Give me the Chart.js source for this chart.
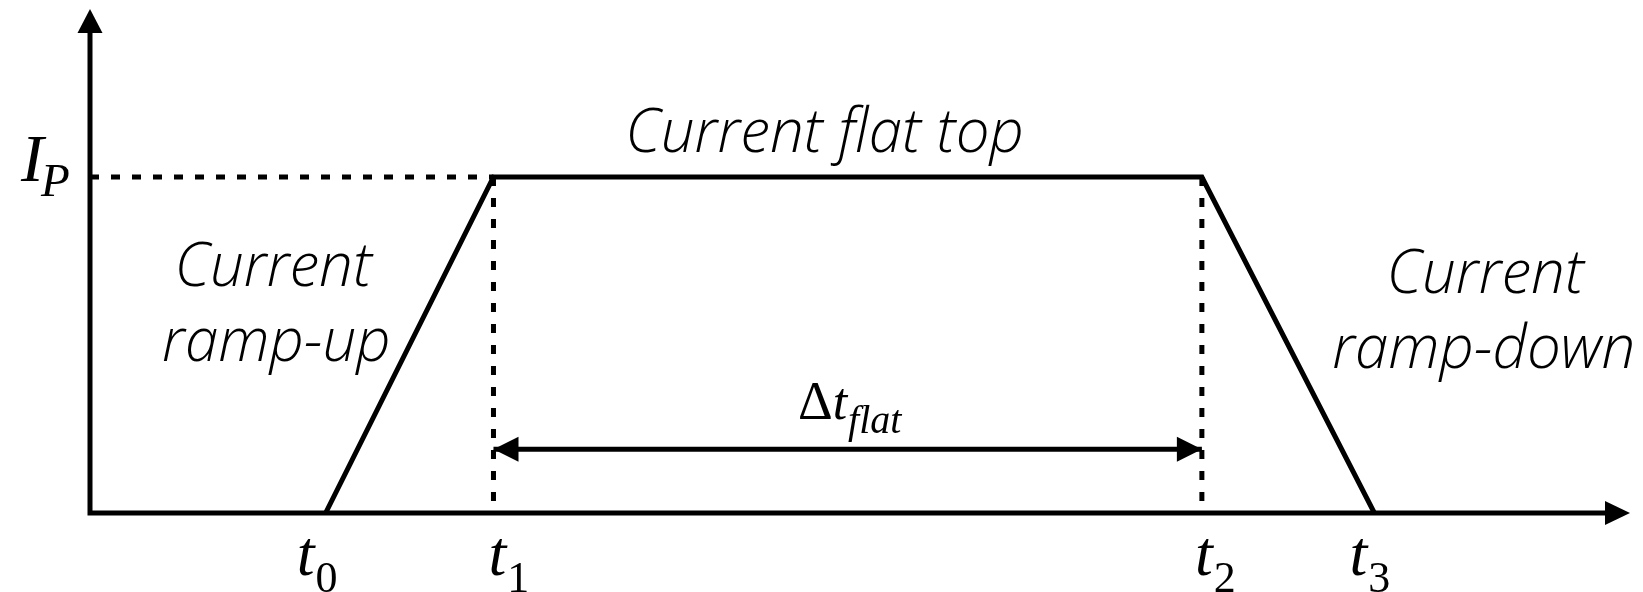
<!DOCTYPE html>
<html>
<head>
<meta charset="utf-8">
<script src="https://cdn.jsdelivr.net/npm/chart.js@4/dist/chart.umd.min.js"></script>
<style>
  html, body { margin: 0; padding: 0; background: #fff; }
  #wrap { width: 1643px; height: 592px; position: relative; }
</style>
</head>
<body>
<div id="wrap"><canvas id="pulse"></canvas></div>
<script>
// Plasma current pulse: phase boundaries and current levels
const phaseTimes = [15.3, 26.2, 72.2, 83.4];     // t0, t1, t2, t3
const phaseCurrent = [0, 1, 1, 0];               // current, normalised to I_P
const timeSubscripts = ['0', '1', '2', '3'];     // tick labels t0..t3
const plateauLevel = 1;                           // I_P
const flatSpanLevel = 0.19;                       // height of the Δt_flat marker
const phaseNames = ['Current flat top', 'Current', 'ramp-up', 'Current', 'ramp-down'];
const xMax = 100;
const yMax = 1.5;

// ---- styling / placement ----
const INK = '#000';
const LINE_W = 5;
const DASH = [9, 12];
const TEXT_FONT = 'italic 300 60px "Open Sans", "Noto Sans", sans-serif';
const SERIF = '"Liberation Serif", "Times New Roman", serif';
// anchor of each phase caption (data units), same order as phaseNames
const captionAnchors = [
  { x: 47.7, y: 1.074 },
  { x: 11.9, y: 0.676 },
  { x: 12.1, y: 0.452 },
  { x: 90.6, y: 0.655 },
  { x: 90.5, y: 0.432 }
];
const tickNudge = [-9, 15, 13, -5];   // horizontal offsets of the t_i labels (px)

const pts = (xs, ys) => xs.map((x, i) => ({ x, y: ys[i] }));
const t1 = phaseTimes[1], t2 = phaseTimes[2];

function arrowHead(ctx, tx, ty, dx, dy, len = 25, half = 12.5) {
  const bx = tx - dx * len, by = ty - dy * len;
  ctx.beginPath();
  ctx.moveTo(tx, ty);
  ctx.lineTo(bx - dy * half, by + dx * half);
  ctx.lineTo(bx + dy * half, by - dx * half);
  ctx.closePath();
  ctx.fill();
}

// Axes with arrowheads
const axesPlugin = {
  id: 'arrowAxes',
  beforeDatasetsDraw(chart) {
    const { ctx, scales: { x, y } } = chart;
    const x0 = x.getPixelForValue(0), y0 = y.getPixelForValue(0);
    const xEnd = x.getPixelForValue(xMax), yEnd = y.getPixelForValue(yMax);
    ctx.save();
    ctx.strokeStyle = INK; ctx.fillStyle = INK;
    ctx.lineWidth = LINE_W; ctx.lineJoin = 'miter'; ctx.lineCap = 'butt';
    ctx.beginPath();
    ctx.moveTo(x0, yEnd + 22);
    ctx.lineTo(x0, y0);
    ctx.lineTo(xEnd - 22, y0);
    ctx.stroke();
    arrowHead(ctx, x0, yEnd, 0, -1, 24, 12.5);
    arrowHead(ctx, xEnd, y0, 1, 0, 25, 12);
    ctx.restore();
  }
};

// Arrowheads of the flat-top duration marker, tick labels and captions
const labelPlugin = {
  id: 'pulseLabels',
  afterDatasetsDraw(chart) {
    const { ctx, scales: { x, y } } = chart;
    ctx.save();
    ctx.fillStyle = INK;

    // Δt_flat marker heads
    const ym = y.getPixelForValue(flatSpanLevel);
    arrowHead(ctx, x.getPixelForValue(t1), ym, -1, 0, 25, 12.5);
    arrowHead(ctx, x.getPixelForValue(t2), ym, 1, 0, 25, 12.5);

    ctx.textAlign = 'left';
    ctx.textBaseline = 'alphabetic';

    // Δt_flat label
    const fD = '54px ' + SERIF, fT = 'italic 52px ' + SERIF, fS = 'italic 40px ' + SERIF;
    ctx.font = fD; const wD = ctx.measureText('Δ').width;
    ctx.font = fT; const wT = ctx.measureText('t').width;
    ctx.font = fS; const wS = ctx.measureText('flat').width;
    const total = wD + wT + 1 + wS;
    let lx = (x.getPixelForValue(t1) + x.getPixelForValue(t2)) / 2 + 2 - total / 2;
    const lb = ym - 30;
    ctx.font = fD; ctx.fillText('Δ', lx, lb); lx += wD;
    ctx.font = fT; ctx.fillText('t', lx, lb); lx += wT + 1;
    ctx.font = fS; ctx.fillText('flat', lx, lb + 14);

    // t_i tick labels under the time axis
    const base = y.getPixelForValue(0) + 62;
    phaseTimes.forEach((tv, i) => {
      ctx.font = 'italic 64px ' + SERIF;
      const wt = ctx.measureText('t').width;
      ctx.font = '44px ' + SERIF;
      const ws = ctx.measureText(timeSubscripts[i]).width;
      const px = x.getPixelForValue(tv) + tickNudge[i] - (wt + ws) / 2;
      ctx.font = 'italic 64px ' + SERIF;
      ctx.fillText('t', px, base);
      ctx.font = '44px ' + SERIF;
      ctx.fillText(timeSubscripts[i], px + wt + 1, base + 17);
    });

    // I_P level label
    const yp = y.getPixelForValue(plateauLevel);
    ctx.font = 'italic 68px ' + SERIF;
    ctx.fillText('I', 21, yp + 4);
    ctx.font = 'italic 47px ' + SERIF;
    ctx.fillText('P', 41, yp + 19);

    // phase captions
    ctx.font = TEXT_FONT;
    ctx.textAlign = 'center';
    phaseNames.forEach((name, i) => {
      const a = captionAnchors[i];
      ctx.fillText(name, x.getPixelForValue(a.x), y.getPixelForValue(a.y));
    });
    ctx.restore();
  }
};

const solid = { borderColor: INK, borderWidth: LINE_W, pointRadius: 0, showLine: true,
                fill: false, tension: 0, borderJoinStyle: 'miter', borderCapStyle: 'butt' };
const dashed = Object.assign({}, solid, { borderDash: DASH });

new Chart(document.getElementById('pulse'), {
  type: 'scatter',
  data: {
    datasets: [
      Object.assign({ label: 'I(t)', data: pts(phaseTimes, phaseCurrent) }, solid),
      Object.assign({ label: 'I_P', data: pts([0, t1], [plateauLevel, plateauLevel]) }, dashed),
      Object.assign({ label: 't1', data: pts([t1, t1], [plateauLevel, 0]) }, dashed),
      Object.assign({ label: 't2', data: pts([t2, t2], [plateauLevel, 0]) }, dashed),
      Object.assign({ label: 'Δt_flat', data: pts([t1, t2], [flatSpanLevel, flatSpanLevel]) }, solid)
    ]
  },
  options: {
    responsive: true,
    maintainAspectRatio: false,
    animation: false,
    devicePixelRatio: 1,
    layout: { padding: { left: 90, top: 9, right: 13, bottom: 79 } },
    plugins: { legend: { display: false }, tooltip: { enabled: false } },
    scales: {
      x: { type: 'linear', min: 0, max: xMax, display: false },
      y: { type: 'linear', min: 0, max: yMax, display: false }
    }
  },
  plugins: [axesPlugin, labelPlugin]
});
</script>
</body>
</html>
